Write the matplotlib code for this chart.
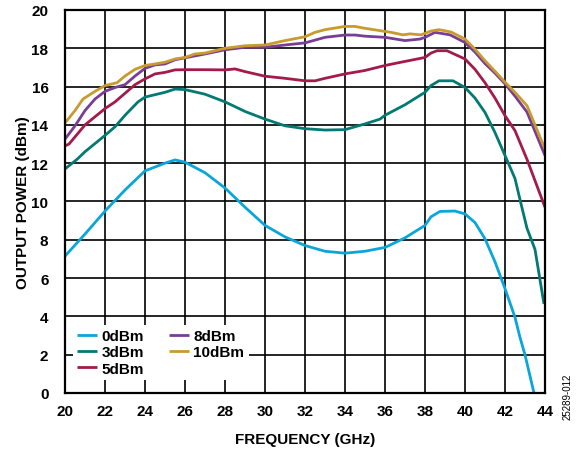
import numpy as np
import matplotlib.pyplot as plt

plt.rcParams['font.family'] = ['Liberation Sans', 'DejaVu Sans']

# 0dBm
f0 = [20, 21, 22, 23, 24, 25, 25.5, 26, 27, 28, 29, 30, 31, 32, 33, 34, 35, 36, 37, 38, 38.3, 38.75, 39.5, 40, 40.5, 41, 41.5, 42, 42.5, 42.75, 43, 43.45]
p0 = [7.15, 8.3, 9.5, 10.6, 11.6, 12.0, 12.17, 12.05, 11.5, 10.7, 9.7, 8.75, 8.15, 7.7, 7.4, 7.3, 7.4, 7.6, 8.1, 8.75, 9.2, 9.48, 9.5, 9.35, 8.9, 8.05, 6.85, 5.45, 3.95, 2.9, 2.0, 0.0]
# 3dBm
f3 = [20, 20.6, 21, 22, 22.5, 23, 23.65, 24, 25, 25.5, 26, 27, 28, 29, 30, 31, 32, 33, 34, 35, 35.75, 36, 37, 38, 38.3, 38.7, 39.4, 40, 40.5, 41, 41.5, 42, 42.5, 42.75, 43.1, 43.5, 43.95]
p3 = [11.7, 12.2, 12.6, 13.45, 13.9, 14.5, 15.2, 15.45, 15.7, 15.87, 15.84, 15.6, 15.2, 14.7, 14.3, 13.95, 13.8, 13.73, 13.75, 14.05, 14.3, 14.5, 15.05, 15.7, 16.05, 16.3, 16.3, 15.95, 15.4, 14.65, 13.6, 12.4, 11.2, 10.1, 8.6, 7.5, 4.65]
# 5dBm
f5 = [20, 20.2, 21, 22, 22.5, 23, 23.5, 24, 24.5, 25, 25.5, 26, 27, 28, 28.5, 29, 30, 31, 32, 32.5, 33, 34, 35, 36, 36.75, 38, 38.3, 38.6, 39.1, 40, 40.5, 41, 41.5, 42, 42.5, 43.1, 44]
p5 = [12.9, 13.0, 14.0, 14.85, 15.2, 15.65, 16.1, 16.4, 16.66, 16.74, 16.87, 16.88, 16.88, 16.87, 16.92, 16.78, 16.54, 16.43, 16.3, 16.3, 16.43, 16.66, 16.84, 17.1, 17.26, 17.52, 17.75, 17.87, 17.87, 17.44, 16.9, 16.2, 15.4, 14.48, 13.7, 12.2, 9.7]
# 8dBm
f8 = [20, 20.5, 21, 21.5, 22, 22.5, 23, 23.5, 24, 24.5, 25, 25.5, 26, 27, 28, 29, 30, 31, 32, 33, 34, 34.5, 35, 36, 37, 37.75, 38, 38.5, 39.25, 40, 40.5, 41, 41.5, 42, 42.5, 43.1, 44]
p8 = [13.26, 13.95, 14.75, 15.35, 15.75, 15.95, 16.1, 16.55, 16.95, 17.13, 17.18, 17.4, 17.5, 17.7, 17.92, 18.05, 18.05, 18.17, 18.28, 18.57, 18.69, 18.69, 18.63, 18.57, 18.4, 18.48, 18.57, 18.83, 18.7, 18.3, 17.8, 17.2, 16.7, 16.14, 15.5, 14.67, 12.4]
# 10dBm
f10 = [20, 20.5, 20.9, 21.5, 22, 22.6, 23, 23.5, 24, 24.5, 25, 25.5, 26, 26.5, 27, 28, 29, 30, 31, 32, 32.5, 33, 34, 34.5, 35, 36, 36.3, 36.9, 37.25, 37.8, 38.3, 38.7, 39.3, 40, 40.5, 41, 41.5, 42, 42.5, 43.1, 44]
p10 = [14.1, 14.75, 15.35, 15.75, 16.05, 16.2, 16.55, 16.9, 17.1, 17.18, 17.27, 17.44, 17.52, 17.7, 17.75, 18.0, 18.13, 18.17, 18.4, 18.6, 18.83, 18.97, 19.14, 19.14, 19.04, 18.88, 18.83, 18.7, 18.75, 18.7, 18.9, 18.97, 18.85, 18.48, 17.95, 17.35, 16.8, 16.23, 15.7, 15.0, 12.74]

fig = plt.figure(figsize=(5.86, 4.56), dpi=100)
ax = fig.add_axes([0.111, 0.136, 0.819, 0.840])

lw = 2.0
ax.plot(f0, p0, color='#0AA5DB', lw=lw, label='0dBm', solid_capstyle='butt')
ax.plot(f3, p3, color='#007A72', lw=lw, label='3dBm', solid_capstyle='butt')
ax.plot(f5, p5, color='#A31A4B', lw=lw, label='5dBm', solid_capstyle='butt')
ax.plot(f8, p8, color='#7A3D96', lw=lw, label='8dBm', solid_capstyle='butt')
ax.plot(f10, p10, color='#C89B2E', lw=lw, label='10dBm', solid_capstyle='butt')

ax.set_xlim(20, 44)
ax.set_ylim(0, 20)
ax.set_xticks(np.arange(20, 45, 2))
ax.set_yticks(np.arange(0, 21, 2))
ax.grid(True, color='black', lw=1.2)
ax.set_axisbelow(True)
ax.tick_params(length=0, labelsize=11)
ax.tick_params(axis='x', pad=8)
ax.tick_params(axis='y', pad=12)
for lab in ax.get_xticklabels() + ax.get_yticklabels():
    lab.set_fontweight('bold')
for s in ax.spines.values():
    s.set_linewidth(1.6)

ax.set_xlabel('FREQUENCY (GHz)', fontsize=11, fontweight='bold', labelpad=10)
ax.set_ylabel('OUTPUT POWER (dBm)', fontsize=11, fontweight='bold', labelpad=1)

leg = ax.legend(loc='lower left', ncol=2, frameon=True,
                prop={'weight': 'bold', 'size': 11}, handlelength=1.3,
                handletextpad=0.3, columnspacing=1.6, labelspacing=0.15,
                borderpad=0.3, bbox_to_anchor=(0.0, 0.013))
leg.get_frame().set_edgecolor('none')
leg.get_frame().set_facecolor('white')
leg.get_frame().set_alpha(1)
leg.get_frame().set_boxstyle('square', pad=0)

fig.text(0.968, 0.13, '25289-012', rotation=90, fontsize=7, ha='center', va='center')

fig.savefig('out.png', dpi=100)
